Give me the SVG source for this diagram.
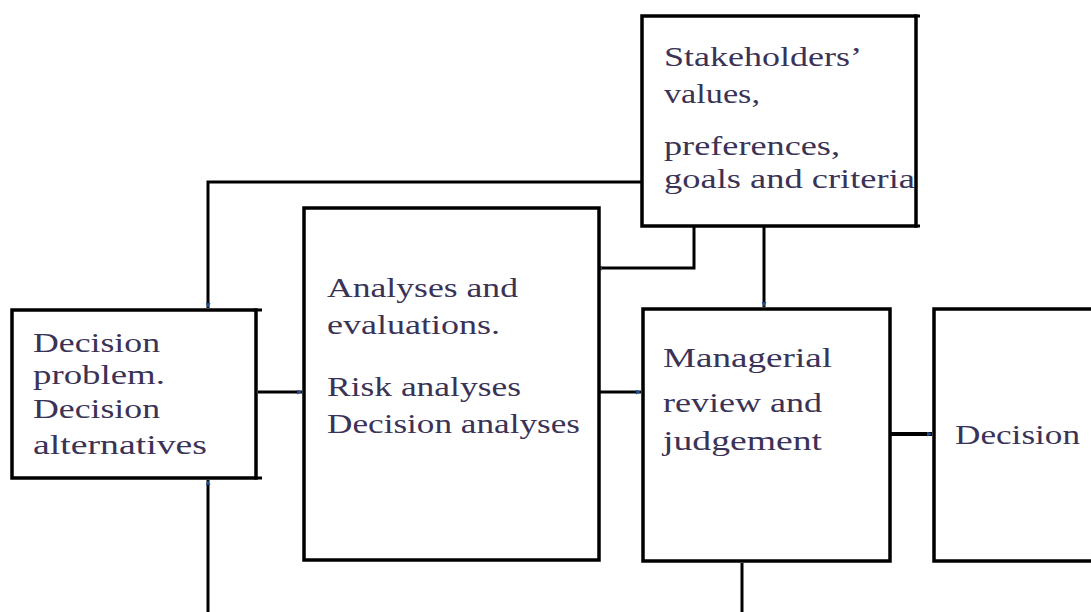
<svg xmlns="http://www.w3.org/2000/svg" width="1091" height="612" viewBox="0 0 1091 612">
<style>
.box{fill:#fff;stroke:#000;stroke-width:3.5}
.ln{fill:none;stroke:#000;stroke-width:3}
.t{font-family:"Liberation Serif","Times New Roman",serif;font-size:27px;fill:#3a3356}
</style>
<defs>
<marker id="ah" viewBox="0 0 6 6" refX="6" refY="3" markerWidth="5" markerHeight="5" markerUnits="userSpaceOnUse" orient="auto">
<path d="M0,0 L6,3 L0,6 z" fill="#1d4f8f"/>
</marker>
</defs>
<rect width="1091" height="612" fill="#fff"/>
<g id="connectors">
<polyline class="ln" points="646,182 208,182 208,308" marker-end="url(#ah)"/>
<polyline class="ln" points="694,226 694,268 597,268" marker-end="url(#ah)"/>
<line class="ln" x1="764" y1="226" x2="764" y2="307" marker-end="url(#ah)"/>
<line class="ln" x1="258" y1="392" x2="302" y2="392" marker-end="url(#ah)"/>
<line class="ln" x1="593" y1="392" x2="641" y2="392" marker-end="url(#ah)"/>
<line class="ln" x1="884" y1="434" x2="932" y2="434" style="stroke-width:4" marker-end="url(#ah)"/>
<line class="ln" x1="208" y1="612" x2="208" y2="480" marker-end="url(#ah)"/>
<line class="ln" x1="742" y1="563" x2="742" y2="612"/>
</g>
<g id="stakeholders">
<rect class="box" x="642" y="16" width="274" height="210"/>
<line class="ln" x1="914" y1="16" x2="920" y2="16"/>
<line class="ln" x1="914" y1="226" x2="920" y2="226"/>
<text class="t" x="664" y="66" textLength="198" lengthAdjust="spacingAndGlyphs">Stakeholders’</text>
<text class="t" x="664" y="103" textLength="96" lengthAdjust="spacingAndGlyphs">values,</text>
<text class="t" x="664" y="155" textLength="176" lengthAdjust="spacingAndGlyphs">preferences,</text>
<text class="t" x="664" y="188" textLength="251" lengthAdjust="spacingAndGlyphs">goals and criteria</text>
</g>
<g id="problem">
<rect class="box" x="12" y="310" width="244" height="168"/>
<line class="ln" x1="254" y1="310" x2="262" y2="310"/>
<line class="ln" x1="254" y1="478" x2="262" y2="478"/>
<text class="t" x="33" y="352" textLength="127" lengthAdjust="spacingAndGlyphs">Decision</text>
<text class="t" x="33" y="384" textLength="132" lengthAdjust="spacingAndGlyphs">problem.</text>
<text class="t" x="33" y="418" textLength="127" lengthAdjust="spacingAndGlyphs">Decision</text>
<text class="t" x="33" y="454" textLength="174" lengthAdjust="spacingAndGlyphs">alternatives</text>
</g>
<g id="analyses">
<rect class="box" x="304" y="208" width="295" height="352"/>
<text class="t" x="327" y="297" textLength="191" lengthAdjust="spacingAndGlyphs">Analyses and</text>
<text class="t" x="327" y="334" textLength="173" lengthAdjust="spacingAndGlyphs">evaluations.</text>
<text class="t" x="327" y="396" textLength="194" lengthAdjust="spacingAndGlyphs">Risk analyses</text>
<text class="t" x="327" y="433" textLength="253" lengthAdjust="spacingAndGlyphs">Decision analyses</text>
</g>
<g id="managerial">
<rect class="box" x="643" y="309" width="247" height="252"/>
<text class="t" x="663" y="367" textLength="169" lengthAdjust="spacingAndGlyphs">Managerial</text>
<text class="t" x="663" y="412" textLength="159" lengthAdjust="spacingAndGlyphs">review and</text>
<text class="t" x="663" y="450" textLength="159" lengthAdjust="spacingAndGlyphs">judgement</text>
</g>
<g id="decision">
<rect class="box" x="934" y="309" width="170" height="252"/>
<text class="t" x="955" y="444" textLength="125" lengthAdjust="spacingAndGlyphs">Decision</text>
</g>
</svg>
